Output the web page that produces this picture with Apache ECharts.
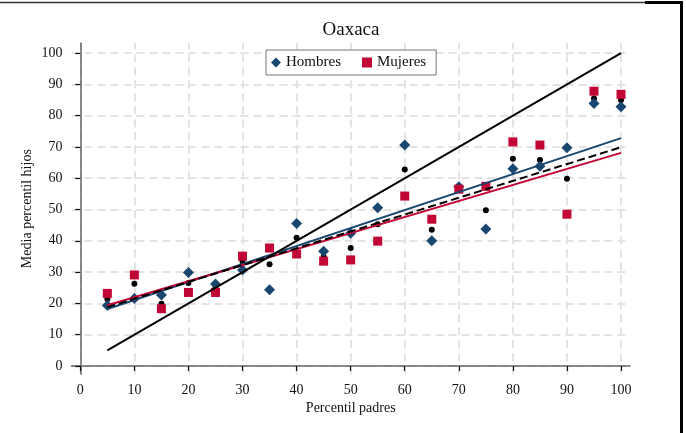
<!DOCTYPE html>
<html>
<head>
<meta charset="utf-8">
<script src="https://cdn.jsdelivr.net/npm/echarts@6/dist/echarts.min.js"></script>
<style>
  html, body { margin: 0; padding: 0; background: #fff; }
  #chart { width: 686px; height: 433px; }
</style>
</head>
<body>
<div id="chart"></div>
<script>
// Parent percentile (x) and mean child percentile (y) for Oaxaca
const percentiles = [5, 10, 15, 20, 25, 30, 35, 40, 45, 50, 55, 60, 65, 70, 75, 80, 85, 90, 95, 100];
const hombres = [19.3, 21.6, 22.7, 29.9, 26.2, 30.7, 24.4, 45.5, 36.7, 42.4, 50.6, 70.6, 40.0, 57.3, 43.8, 63.0, 63.8, 69.7, 83.9, 82.8];
const mujeres = [23.2, 29.1, 18.3, 23.5, 23.5, 35.1, 37.7, 35.8, 33.5, 33.9, 39.9, 54.3, 46.9, 56.5, 57.4, 71.6, 70.6, 48.5, 87.8, 86.8];
const total   = [21.4, 26.3, 19.9, 26.5, 25.3, 33.3, 32.5, 41.0, 34.9, 37.7, 45.3, 62.8, 43.5, 57.0, 49.8, 66.2, 65.8, 59.8, 85.5, 85.0];

// Fitted lines (endpoints at x = 5 and x = 100) and the 45-degree reference
const fitX = [5, 100];
const fitHombres = [18.2, 72.8];
const fitMujeres = [19.4, 68.1];
const fitTotal = [18.8, 69.9];
const diagonal = [5, 100];

const tickValues = [0, 10, 20, 30, 40, 50, 60, 70, 80, 90, 100];

const NAVY = '#1a476f';
const RED = '#c10534';
const FONT = '"Liberation Serif", "DejaVu Serif", serif';

const pairs = (xs, ys) => xs.map((x, i) => [x, ys[i]]);

const gridDash = { color: '#e3e3e3', width: 2, type: [8, 5] };

const axisCommon = {
  type: 'value', nameLocation: 'middle', nameMoveOverlap: false, zlevel: 1,
  nameTextStyle: { fontFamily: FONT, fontSize: 14, color: '#111' },
  axisLine: { show: true, lineStyle: { color: '#666', width: 1.5 } },
  axisTick: { show: true, length: 5, customValues: tickValues, lineStyle: { color: '#111', width: 1.2 } },
  axisLabel: { customValues: tickValues, margin: 9, fontFamily: FONT, fontSize: 14, color: '#111' },
  splitLine: { show: false }
};

const chart = echarts.init(document.getElementById('chart'), null, { renderer: 'canvas' });

chart.setOption({
  animation: false,
  backgroundColor: '#fff',
  textStyle: { fontFamily: FONT },
  title: {
    text: 'Oaxaca',
    left: 346, top: 16, textAlign: 'center',
    textStyle: { fontFamily: FONT, fontSize: 19, fontWeight: 'normal', color: '#111' }
  },
  legend: {
    left: 266, top: 50, zlevel: 2,
    data: [{ name: 'Hombres', icon: 'diamond' }, { name: 'Mujeres', icon: 'rect' }],
    backgroundColor: '#fff',
    borderColor: '#777', borderWidth: 1,
    padding: [5, 10, 5, 5],
    itemGap: 21, itemWidth: 10, itemHeight: 10,
    textStyle: { fontFamily: FONT, fontSize: 15, color: '#111' }
  },
  grid: { left: 71.5, top: 43, width: 558.5, height: 331.3, containLabel: false },
  xAxis: Object.assign({}, axisCommon, {
    min: -1.63, max: 101.66,
    name: 'Percentil padres', nameGap: 27
  }),
  yAxis: Object.assign({}, axisCommon, {
    min: -2.65, max: 103.2,
    name: 'Media percentil hijos', nameGap: 37, nameRotate: 90
  }),
  series: [
    {
      // dashed grid drawn as mark lines at the tick values, kept on the lowest layer
      type: 'line', data: [], silent: true, zlevel: 0, z: 1,
      markLine: {
        silent: true, symbol: 'none', label: { show: false },
        lineStyle: gridDash,
        data: tickValues.map(v => ({ xAxis: v })).concat(tickValues.map(v => ({ yAxis: v })))
      }
    },
    {
      name: 'Total', type: 'scatter', data: pairs(percentiles, total), zlevel: 1, z: 2,
      symbol: 'circle', symbolSize: 6, itemStyle: { color: '#000', opacity: 1 }
    },
    {
      name: 'Hombres', type: 'scatter', data: pairs(percentiles, hombres), zlevel: 1, z: 3,
      symbol: 'diamond', symbolSize: 11, itemStyle: { color: NAVY, opacity: 1 }
    },
    {
      name: 'Mujeres', type: 'scatter', data: pairs(percentiles, mujeres), zlevel: 1, z: 4,
      symbol: 'rect', symbolSize: 9, itemStyle: { color: RED, opacity: 1 }
    },
    {
      name: 'Ajuste hombres', type: 'line', data: pairs(fitX, fitHombres), zlevel: 1, z: 5,
      symbol: 'none', lineStyle: { color: NAVY, width: 2 }
    },
    {
      name: 'Ajuste mujeres', type: 'line', data: pairs(fitX, fitMujeres), zlevel: 1, z: 5,
      symbol: 'none', lineStyle: { color: RED, width: 2 }
    },
    {
      name: 'Ajuste total', type: 'line', data: pairs(fitX, fitTotal), zlevel: 1, z: 5,
      symbol: 'none', lineStyle: { color: '#000', width: 2, type: [8, 4] }
    },
    {
      name: '45 grados', type: 'line', data: pairs(diagonal, diagonal), zlevel: 1, z: 5,
      symbol: 'none', lineStyle: { color: '#000', width: 2 }
    }
  ],
  graphic: [
    { type: 'line', shape: { x1: 0, y1: 2.5, x2: 646, y2: 2.5 }, style: { stroke: '#333', lineWidth: 1.5 } },
    { type: 'line', shape: { x1: 645, y1: 2.5, x2: 683, y2: 2.5 }, style: { stroke: '#000', lineWidth: 3 } },
    { type: 'line', shape: { x1: 681.5, y1: 1, x2: 681.5, y2: 433 }, style: { stroke: '#000', lineWidth: 3 } }
  ]
});
</script>
</body>
</html>
